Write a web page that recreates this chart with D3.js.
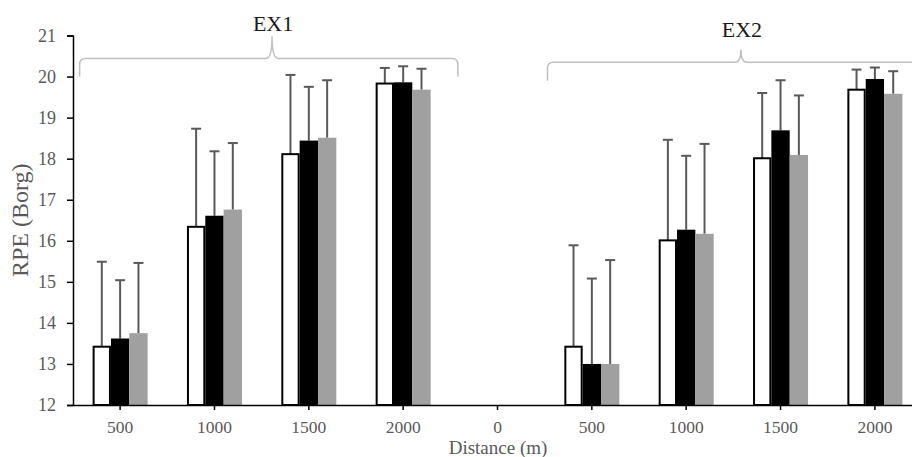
<!DOCTYPE html>
<html>
<head>
<meta charset="utf-8">
<script src="https://cdn.jsdelivr.net/npm/d3@7"></script>
<style>
  body { margin: 0; background: #fff; }
  svg { display: block; }
</style>
</head>
<body>
<svg id="chart"></svg>
<script>
// distances, two exercise blocks separated by an empty "0" slot
const categories = ["500", "1000", "1500", "2000", "0", "500", "1000", "1500", "2000"];
const seriesNames = ["white", "black", "gray"];

// mean RPE per series (null = no bar)
const whiteMean = [13.42, 16.34, 18.11, 19.83, null, 13.42, 16.01, 18.01, 19.68];
const blackMean = [13.62, 16.61, 18.44, 19.86, null, 13.00, 16.27, 18.69, 19.94];
const grayMean  = [13.75, 16.76, 18.51, 19.68, null, 13.00, 16.17, 18.09, 19.58];

// standard deviations (upper error bars only)
const whiteSD = [2.07, 2.39, 1.93, 0.38, null, 2.47, 2.45, 1.59, 0.49];
const blackSD = [1.42, 1.57, 1.31, 0.39, null, 2.08, 1.80, 1.22, 0.28];
const graySD  = [1.71, 1.62, 1.40, 0.51, null, 2.53, 2.19, 1.45, 0.55];

const yTicks = [12, 13, 14, 15, 16, 17, 18, 19, 20, 21];

// the two bracket labels, spans in category units
const groupLabels = ["EX1", "EX2"];
const groupFrom = [0.07, 5.03];
const groupTip = [2.11, 7.08];
const groupTo = [4.08, 9.13];

const FONT = '"Liberation Serif", "Times New Roman", serif';
const W = 912, H = 457;
const mLeft = 73, mRight = 922, mTop = 35.5, mBottom = 405;

const svg = d3.select("#chart").attr("width", W).attr("height", H);

const x0 = d3.scaleBand()
    .domain(d3.range(categories.length))
    .range([mLeft, mRight])
    .paddingInner(0.417)
    .paddingOuter(0.208);

const x1 = d3.scaleBand()
    .domain(seriesNames)
    .range([0, x0.bandwidth()]);

const xPos = d3.scaleLinear().domain([0, categories.length]).range([mLeft, mRight]);

const y = d3.scaleLinear().domain([12, 21]).range([mBottom, mTop]);

const fills = { white: "#ffffff", black: "#000000", gray: "#a0a0a0" };
const means = { white: whiteMean, black: blackMean, gray: grayMean };
const sds = { white: whiteSD, black: blackSD, gray: graySD };

// flatten for binding
const bars = [];
seriesNames.forEach(s => {
    categories.forEach((c, i) => {
        if (means[s][i] != null) bars.push({ s, i, v: means[s][i], sd: sds[s][i] });
    });
});

const cx = d => x0(d.i) + x1(d.s) + x1.bandwidth() / 2;

// error bars go behind the bars
const err = svg.append("g")
    .attr("stroke", "#595959")
    .attr("stroke-width", 2);

err.selectAll("line.v")
    .data(bars)
    .join("line")
    .attr("class", "v")
    .attr("x1", cx)
    .attr("x2", cx)
    .attr("y1", d => y(d.v))
    .attr("y2", d => y(d.v + d.sd));

err.selectAll("line.cap")
    .data(bars)
    .join("line")
    .attr("class", "cap")
    .attr("x1", d => cx(d) - 5)
    .attr("x2", d => cx(d) + 5)
    .attr("y1", d => y(d.v + d.sd))
    .attr("y2", d => y(d.v + d.sd));

svg.append("g")
    .selectAll("rect")
    .data(bars)
    .join("rect")
    .attr("x", d => x0(d.i) + x1(d.s) + (d.s === "white" ? 1 : 0))
    .attr("y", d => y(d.v))
    .attr("width", d => x1.bandwidth() - (d.s === "white" ? 2 : 0))
    .attr("height", d => y(12) - y(d.v))
    .attr("fill", d => fills[d.s])
    .attr("stroke", d => d.s === "white" ? "#000" : "none")
    .attr("stroke-width", 2);

// y axis
const yAxis = svg.append("g")
    .attr("transform", `translate(${mLeft},0)`)
    .call(d3.axisLeft(y).tickValues(yTicks).tickSize(6).tickPadding(11));
yAxis.attr("font-family", FONT);
yAxis.select(".domain").attr("stroke", "#000").attr("stroke-width", 1.5);
yAxis.selectAll(".tick line").attr("stroke", "#000").attr("stroke-width", 1.5);
yAxis.selectAll(".tick text")
    .attr("fill", "#595959")
    .attr("font-family", FONT)
    .attr("font-size", 18);

// x axis
const xAxis = svg.append("g")
    .attr("transform", `translate(0,${mBottom})`)
    .call(d3.axisBottom(x0).tickFormat(i => categories[i]).tickSize(5).tickPadding(11).tickSizeOuter(0));
xAxis.attr("font-family", FONT);
xAxis.select(".domain").attr("stroke", "#000").attr("stroke-width", 1.5);
xAxis.selectAll(".tick line").attr("stroke", "#000").attr("stroke-width", 1.5);
xAxis.selectAll(".tick text")
    .attr("fill", "#595959")
    .attr("font-family", FONT)
    .attr("font-size", 17.5);

// axis titles
svg.append("text")
    .attr("transform", `translate(28,${(mTop + mBottom) / 2}) rotate(-90)`)
    .attr("text-anchor", "middle")
    .attr("fill", "#595959")
    .attr("font-family", FONT)
    .attr("font-size", 24)
    .text("RPE (Borg)");

svg.append("text")
    .attr("x", 498)
    .attr("y", 454)
    .attr("text-anchor", "middle")
    .attr("fill", "#595959")
    .attr("font-family", FONT)
    .attr("font-size", 19)
    .text("Distance (m)");

// curly brackets over each exercise
function bracePath(xa, xt, xb, yEnd, yH, yTip) {
    const r = 6;
    return `M${xa},${yEnd} L${xa},${yH + r} Q${xa},${yH} ${xa + r},${yH}` +
        ` L${xt - r},${yH} Q${xt},${yH} ${xt},${yTip}` +
        ` Q${xt},${yH} ${xt + r},${yH} L${xb - r},${yH} Q${xb},${yH} ${xb},${yH + r}` +
        ` L${xb},${yEnd}`;
}

// end, bar, tip, label baseline (RPE units)
const braceY = [[20.0, 20.44, 20.98, 21.11], [19.9, 20.35, 20.66, 20.96]];

groupLabels.forEach((lab, k) => {
    const xa = xPos(groupFrom[k]), xt = xPos(groupTip[k]), xb = xPos(groupTo[k]);
    svg.append("path")
        .attr("d", bracePath(xa, xt, xb, y(braceY[k][0]), y(braceY[k][1]), y(braceY[k][2])))
        .attr("fill", "none")
        .attr("stroke", "#bfbfbf")
        .attr("stroke-width", 1.5);
    svg.append("text")
        .attr("x", xt + 1)
        .attr("y", y(braceY[k][3]))
        .attr("text-anchor", "middle")
        .attr("fill", "#1a1a1a")
        .attr("font-family", FONT)
        .attr("font-size", 22)
        .text(lab);
});
</script>
</body>
</html>
